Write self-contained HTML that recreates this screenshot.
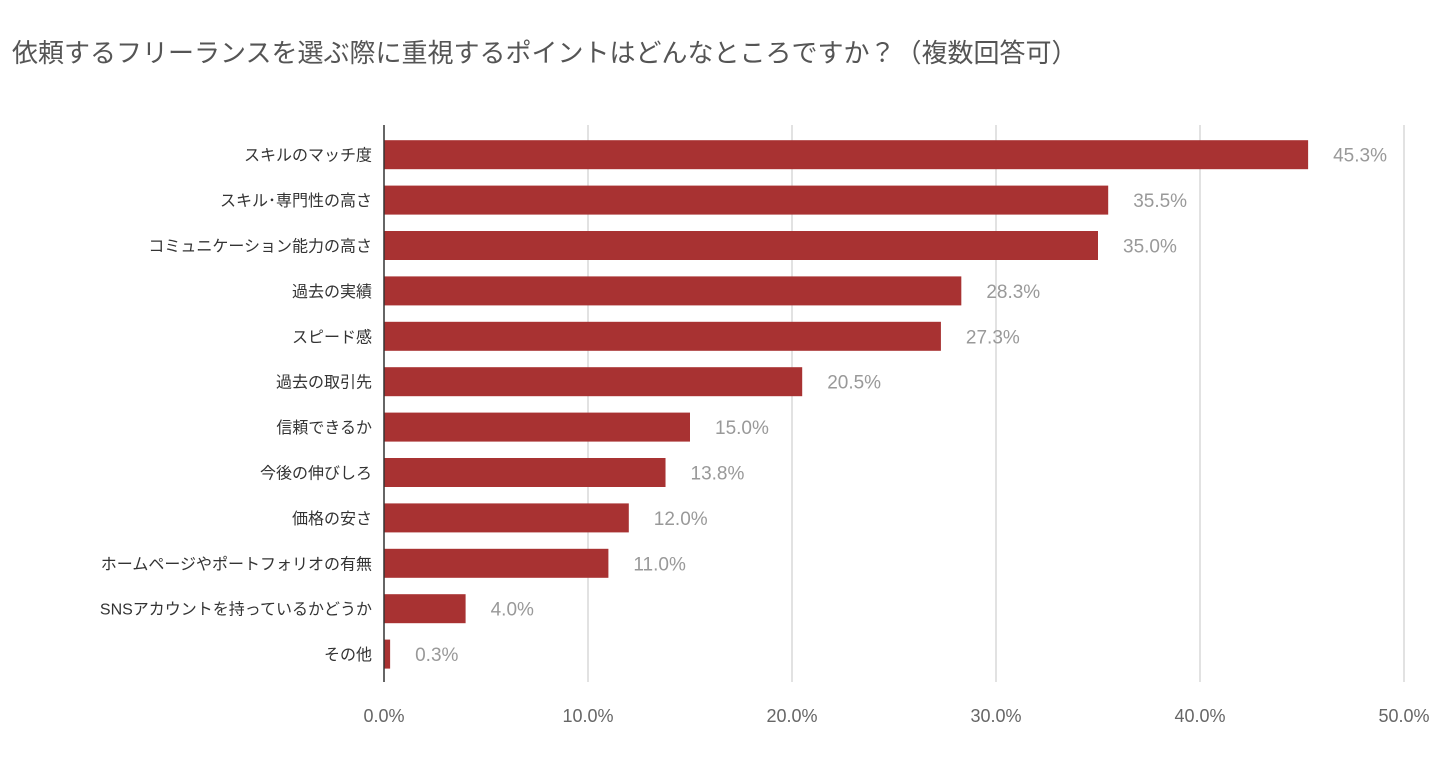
<!DOCTYPE html>
<html><head><meta charset="utf-8"><style>
body{margin:0;background:#fff;width:1440px;height:752px;overflow:hidden}
svg{font-family:"Liberation Sans","Noto Sans CJK JP",sans-serif}
</style></head><body>
<svg id="c" width="1440" height="752">
<text x="12" y="62" font-size="26" fill="#555">依頼するフリーランスを選ぶ際に重視するポイントはどんなところですか？（複数回答可）</text>
</svg>
<script>
const categories=["スキルのマッチ度","スキル･専門性の高さ","コミュニケーション能力の高さ","過去の実績","スピード感","過去の取引先","信頼できるか","今後の伸びしろ","価格の安さ","ホームページやポートフォリオの有無","SNSアカウントを持っているかどうか","その他"];
const values=[45.3,35.5,35.0,28.3,27.3,20.5,15.0,13.8,12.0,11.0,4.0,0.3];
const ticks=[0,10,20,30,40,50];
const NS="http://www.w3.org/2000/svg";
const svg=document.getElementById('c');
const x0=384,x1=1404,xmax=50;
const xs=v=>x0+(x1-x0)*v/xmax;
const yTop=132,step=45.4,bh=29;
const yc=i=>yTop+step*i+step/2;
function mk(t,a){const e=document.createElementNS(NS,t);for(const k in a)e.setAttribute(k,a[k]);svg.appendChild(e);return e;}
ticks.forEach(t=>{
  if(t>0){const g=mk('line',{x1:xs(t),x2:xs(t),y1:125,y2:682,stroke:'#d9d9d9','stroke-width':1.5});
  
  }
  const l=mk('text',{x:xs(t),y:722,'font-size':18,fill:'#666','text-anchor':'middle'});
  l.textContent=t.toFixed(1)+'%';
  
  
});
categories.forEach((c,i)=>{
  const y=yc(i);
  const r=mk('rect',{x:x0,y:y-bh/2,width:xs(values[i])-x0,height:bh,fill:'#a83232'});
  
  
  const cl=mk('text',{x:372,y:y+6,'font-size':16,fill:'#333','text-anchor':'end'});
  cl.textContent=c;
  
  
  const vl=mk('text',{x:xs(values[i])+25,y:y+7,'font-size':19,fill:'#999'});
  vl.textContent=values[i].toFixed(1)+'%';
  
  
});
const ax=mk('line',{x1:x0,x2:x0,y1:125,y2:682,stroke:'#333','stroke-width':1.5});


</script>
</body></html>
